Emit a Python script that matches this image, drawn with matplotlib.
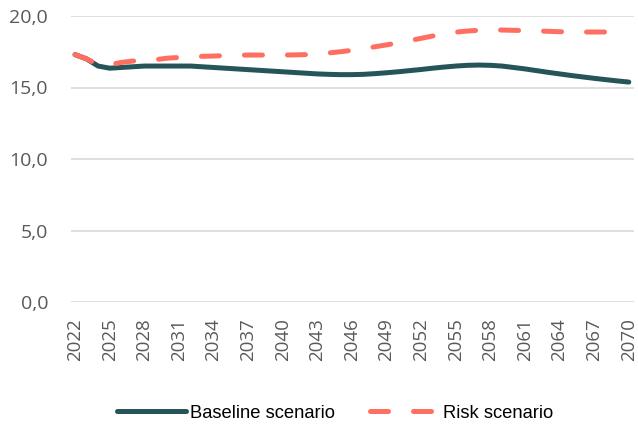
import matplotlib
matplotlib.use("Agg")
import matplotlib.pyplot as plt
import numpy as np

years = list(range(2022, 2071))
baseline = [17.3, 17.0, 16.5, 16.35, 16.4, 16.45, 16.5, 16.5, 16.5, 16.5,
            16.5, 16.45, 16.4, 16.35, 16.3, 16.25, 16.2, 16.15, 16.1, 16.05,
            16.0, 15.95, 15.92, 15.9, 15.9, 15.92, 15.97, 16.03, 16.1, 16.18,
            16.26, 16.35, 16.43, 16.5, 16.55, 16.57, 16.55, 16.5, 16.4, 16.3,
            16.18, 16.06, 15.95, 15.84, 15.74, 15.64, 15.55, 15.46, 15.38]
risk = [17.3, 17.0, 16.6, 16.6, 16.75, 16.85, 16.9, 16.95, 17.05, 17.1,
        17.15, 17.18, 17.2, 17.23, 17.25, 17.27, 17.27, 17.27, 17.27, 17.28,
        17.3, 17.35, 17.42, 17.5, 17.6, 17.72, 17.85, 17.98, 18.12, 18.28,
        18.44, 18.6, 18.75, 18.87, 18.95, 19.0, 19.02, 19.02, 19.0, 18.98,
        18.95, 18.93, 18.9, 18.9, 18.88, 18.88, 18.88, 18.88, 18.9]
xticks = list(range(2022, 2071, 3))
yticks = [0, 5, 10, 15, 20]
series_names = ["Baseline scenario", "Risk scenario"]

fig = plt.figure(figsize=(6.38, 4.28), dpi=100)
ax = fig.add_axes([71/638, 1-302/428, (634-71)/638, (302-16)/428])

ax.plot(years, baseline, color="#255559", lw=3.6, solid_capstyle="round",
        label=series_names[0], zorder=3)
ax.plot(years, risk, color="#FF6F61", lw=3.6, dashes=(3.6, 5.0),
        dash_capstyle="round", label=series_names[1], zorder=3)

ax.set_xlim(2021.65, 2070.45)
ax.set_ylim(0, 20)
ax.set_yticks(yticks)
ax.set_yticklabels([f"{v:.1f}".replace(".", ",") for v in yticks],
                   fontfamily="Open Sans", fontsize=14, color="#595959")
ax.set_xticks(xticks)
ax.set_xticklabels([str(y) for y in xticks], rotation=90,
                   fontfamily="Open Sans", fontsize=13.5, color="#595959")
ax.tick_params(axis="y", length=0, pad=16.5)
ax.tick_params(axis="x", length=0, pad=11.5)
ax.grid(axis="y", color="#d9d9d9", lw=1.2)
ax.set_axisbelow(True)
for s in ax.spines.values():
    s.set_visible(False)

fig.legend(loc="center", bbox_to_anchor=(335/638, 1-413/428), ncol=2,
           frameon=False, prop={"family": "Liberation Sans", "size": 13.2},
           handlelength=3.8, handletextpad=0.2, columnspacing=1.9,
           borderaxespad=0, borderpad=0)

fig.savefig("out.png", dpi=100)
